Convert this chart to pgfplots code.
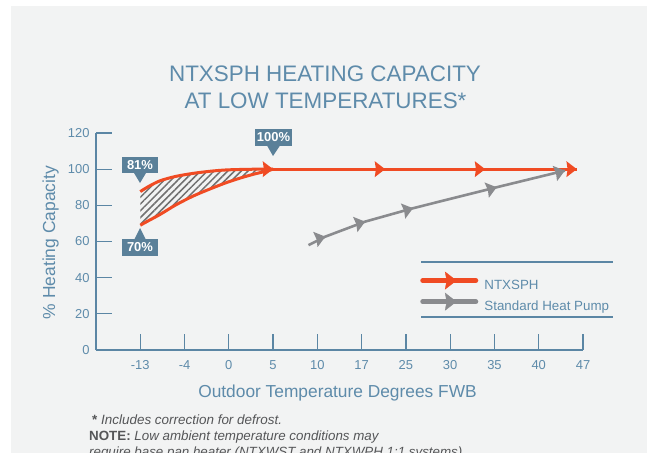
\documentclass[border=0pt]{standalone}
\usepackage{fontspec}
\setmainfont{Liberation Sans}
\usepackage{pgfplots}
\pgfplotsset{compat=1.18}
\usetikzlibrary{patterns.meta}
\definecolor{bg}{HTML}{F2F3F3}
\definecolor{bluec}{HTML}{5E8BAA}
\definecolor{axisc}{HTML}{5B86A4}
\definecolor{calloutc}{HTML}{5A8099}
\definecolor{orangec}{HTML}{F04B23}
\definecolor{grayc}{HTML}{8A8B8E}
\definecolor{hatchc}{HTML}{707070}
\definecolor{footc}{HTML}{555658}
\newcommand{\fs}[1]{\fontsize{#1}{#1}\selectfont}
\pgfdeclareplotmark{arrowhead}{%
  \pgfpathmoveto{\pgfpoint{0pt}{0pt}}%
  \pgfpathlineto{\pgfpoint{-1.3\pgfplotmarksize}{\pgfplotmarksize}}%
  \pgfpathlineto{\pgfpoint{-1.15\pgfplotmarksize}{0pt}}%
  \pgfpathlineto{\pgfpoint{-1.3\pgfplotmarksize}{-\pgfplotmarksize}}%
  \pgfpathclose\pgfusepathqfill}
\begin{document}
\begin{tikzpicture}
\useasboundingbox (0,0) rectangle (647bp,-453bp);
\fill[white] (0,0) rectangle (647bp,-453bp);
\fill[bg] (11bp,-6bp) rectangle (647bp,-453bp);
\begin{axis}[
  at={(96bp,-350bp)}, anchor=south west, scale only axis,
  width=487bp, height=217bp,
  xmin=-1, xmax=10, ymin=0, ymax=120,
  axis lines=left, axis line style={-, line width=2bp, color=axisc},
  xtick={0,...,10}, xticklabels={-13,-4,0,5,10,17,25,30,35,40,47},
  ytick={0,20,...,120},
  tick align=inside, major tick length=16bp,
  tick style={line width=1.3bp, color=axisc},
  ticklabel style={font=\fs{13}, text=bluec},
  xticklabel style={yshift=-7bp},
  yticklabel style={xshift=-3bp},
  /pgf/number format/assume math mode=true,
  clip=false,
  legend cell align=left,
  legend style={at={(rel axis cs:0.665,0.361)}, anchor=north west, draw=none, fill=none,
    inner sep=0pt, row sep=0bp, font=\fs{13.4}, text=bluec},
]
% hatched band between the two NTXSPH curves
\addplot[pattern={Lines[angle=45,distance=4.8bp,line width=1.5bp]}, pattern color=hatchc, draw=none, forget plot] coordinates {
  (0,87.6) (0.2,90.6) (0.45,93.6) (0.8,96.0) (1.2,97.7) (1.6,98.9) (1.96,99.6) (2.5,99.95) (3,100)
  (2.86,99) (2.56,97.2) (2.3,95.4) (1.96,92.7) (1.6,89.3) (1.2,85.2) (0.8,80.2) (0.45,75) (0.2,71.7) (0,69)};
% NTXSPH
\addplot[orangec, line width=3bp, smooth, forget plot] coordinates {(0,87.6) (0.2,90.6) (0.45,93.6) (0.8,96.0) (1.2,97.7) (1.6,98.9) (1.96,99.6) (2.5,99.95) (3,100)};
\addplot[orangec, line width=3bp, smooth, forget plot] coordinates {(0,69) (0.2,71.7) (0.45,75) (0.8,80.2) (1.2,85.2) (1.6,89.3) (1.96,92.7) (2.3,95.4) (2.56,97.2) (2.86,99) (3,100)};
\addplot[orangec, line width=3bp, forget plot] coordinates {(3,100) (9.86,100)};
\addplot[only marks, orangec, mark=arrowhead, mark size=8bp, forget plot] coordinates {(3,100) (5.53,100) (7.79,100) (9.86,100)};
% Standard heat pump
\addplot[grayc, line width=2.6bp, forget plot] coordinates {(3.8,58) (4.18,62.7) (5.08,71) (6.16,78.4) (8.05,90) (9.59,99.2)};
\addplot[only marks, grayc, mark=arrowhead, mark size=8bp, every mark/.append style={rotate=16}, forget plot] coordinates {(4.18,62.7) (5.08,71) (6.16,78.4) (8.05,90) (9.59,99.2)};
% legend
\addlegendimage{legend image code/.code={\path (0bp,5bp) (62bp,5bp); \draw[orangec, line width=5bp, line cap=round] (2.5bp,5bp) -- (55.5bp,5bp); \fill[orangec] (36bp,5bp) -- (25bp,13.5bp) -- (26.5bp,5bp) -- (25bp,-3.5bp) -- cycle;}}
\addlegendentry{NTXSPH}
\addlegendimage{legend image code/.code={\path (0bp,5bp) (62bp,5bp); \draw[grayc, line width=5bp, line cap=round] (2.5bp,5bp) -- (55.5bp,5bp); \fill[grayc] (36bp,5bp) -- (25bp,13.5bp) -- (26.5bp,5bp) -- (25bp,-3.5bp) -- cycle;}}
\addlegendentry{Standard Heat Pump}
\end{axis}
% legend rules
\draw[axisc, line width=1.3bp] (421bp,-262bp) -- (613bp,-262bp);
\draw[axisc, line width=1.3bp] (421bp,-317bp) -- (613bp,-317bp);
% title
\node[anchor=base, text=bluec, font=\fs{22.5}] at (325bp,-81.7bp) {NTXSPH HEATING CAPACITY};
\node[anchor=base, text=bluec, font=\fs{22.5}] at (325.5bp,-108.3bp) {AT LOW TEMPERATURES*};
% axis labels
\node[anchor=base, text=bluec, font=\fs{17.4}] at (337.5bp,-397bp) {Outdoor Temperature Degrees FWB};
\node[anchor=base, rotate=90, text=bluec, font=\fs{17.5}] at (55bp,-242.5bp) {\% Heating Capacity};
% callouts
\node[fill=calloutc, text=white, font=\bfseries\fs{13}, inner sep=0pt, minimum width=36bp, minimum height=16.5bp] at (140bp,-165bp) {81\%};
\fill[calloutc] (134bp,-173bp) -- (146bp,-173bp) -- (140bp,-183bp) -- cycle;
\node[fill=calloutc, text=white, font=\bfseries\fs{13}, inner sep=0pt, minimum width=36bp, minimum height=16.5bp] at (140bp,-247.5bp) {70\%};
\fill[calloutc] (134bp,-240bp) -- (146bp,-240bp) -- (140bp,-228bp) -- cycle;
\node[fill=calloutc, text=white, font=\bfseries\fs{13}, inner sep=0pt, minimum width=37bp, minimum height=16.5bp] at (273.5bp,-137.5bp) {100\%};
\fill[calloutc] (267bp,-145.5bp) -- (280bp,-145.5bp) -- (273bp,-156bp) -- cycle;
% footnotes
\node[anchor=base west, text=footc, font=\fs{13.5}, inner sep=0pt] at (92bp,-424.3bp) {{\bfseries *} \itshape Includes correction for defrost.};
\node[anchor=base west, text=footc, font=\fs{13.4}, inner sep=0pt] at (89bp,-440bp) {\textbf{NOTE:} \textit{Low ambient temperature conditions may}};
\node[anchor=base west, text=footc, font=\fs{13.4}, inner sep=0pt] at (89bp,-456bp) {\textit{require base pan heater (NTXWST and NTXWPH 1:1 systems)}};
\end{tikzpicture}
\end{document}
